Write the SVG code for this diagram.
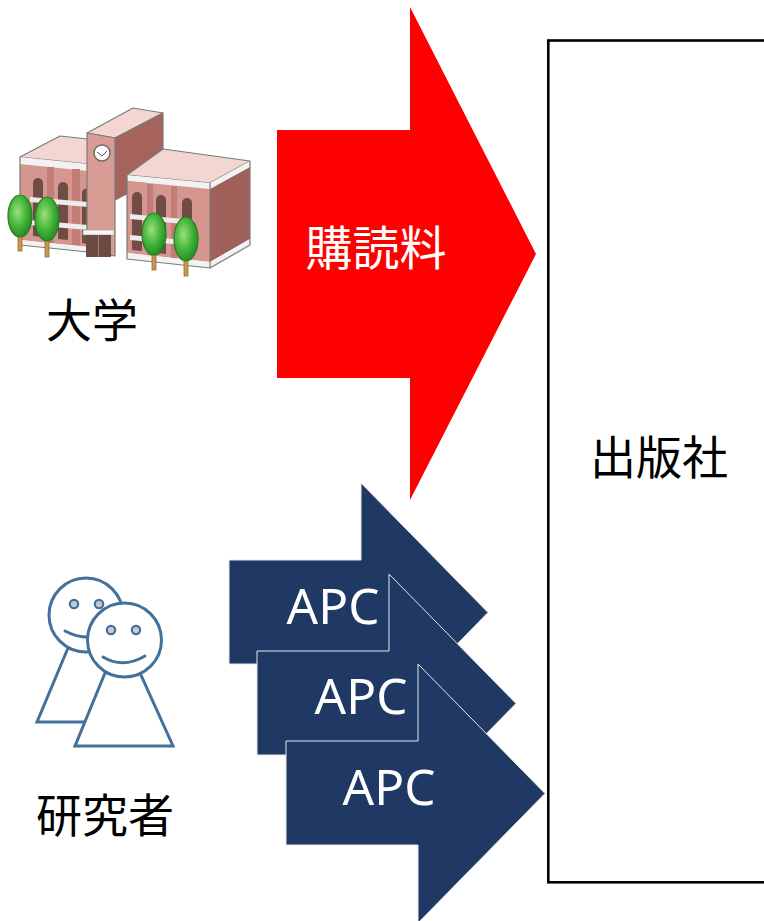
<svg xmlns="http://www.w3.org/2000/svg" width="764" height="921" viewBox="0 0 764 921">
  <style>
    .jp { font-family: "Noto Sans CJK JP", "Noto Sans CJK SC", sans-serif; font-size: 46px; fill: #000; }
    .jp-w { font-family: "Noto Sans CJK JP", "Noto Sans CJK SC", sans-serif; font-size: 47px; fill: #fff; }
    .apc { font-family: "Noto Sans", "Liberation Sans", sans-serif; font-size: 49.5px; fill: #fff; }
    .person { fill: #fff; stroke: #41719c; stroke-width: 3; stroke-linejoin: miter; }
    .eye { fill: #c9c9c9; stroke: #41719c; stroke-width: 2.2; }
    .smile { fill: none; stroke: #41719c; stroke-width: 3; stroke-linecap: round; }
    .edge { stroke: #7a7a7a; stroke-width: 1.2; stroke-linejoin: round; }
    .outline { fill: none; stroke: #7a7a7a; stroke-width: 1.2; stroke-linejoin: round; }
    .rim { fill: #f2f2f2; }
    .win { fill: #6f4c44; }
    .ledge { fill: #ececec; }
    .trunk { fill: #c9964f; stroke: #9a6c34; stroke-width: 0.8; }
    .crown { fill: url(#leaf); stroke: #2c7a25; stroke-width: 1.2; }
  </style>
  <defs>
    <radialGradient id="leaf" cx="0.4" cy="0.4" r="0.65">
      <stop offset="0" stop-color="#9be07f"/>
      <stop offset="0.55" stop-color="#43b53a"/>
      <stop offset="1" stop-color="#1f8a24"/>
    </radialGradient>
    <path id="apc-arrow" d="M0,0 H132 V-77 L259,52.5 L132,182 V104 H0 Z" fill="#203864" stroke="#e8e8e8" stroke-width="1"/>
  </defs>

  <!-- university building icon -->
  <g id="university">
    <!-- left wing -->
    <polygon class="edge" points="20,157 60,136 88,139 88,164" fill="#f3d6d1"/>
    <polygon class="rim" points="20,157 88,164 88,171 20,164"/>
    <polygon points="20,164 88,171 88,247 20,240" fill="#d4968f"/>
    <rect x="47" y="167" width="7" height="76" fill="#c17d76"/>
    <rect x="72" y="169" width="8" height="76" fill="#c17d76"/>
    <path class="win" d="M33,236 V183 A5,5 0 0 1 43,183 V237 Z"/>
    <path class="win" d="M58,239 V187 A5,5 0 0 1 68,187 V240 Z"/>
    <path class="win" d="M82,243 V192 A5,5 0 0 1 88,189 V244 Z"/>
    <polygon class="ledge" points="30,197 88,202 88,207 30,202"/>
    <polygon class="ledge" points="30,220 88,225 88,230 30,225"/>
    <polygon class="rim" points="20,240 88,247 88,252 20,245"/>
    <polyline class="outline" points="20,157 20,245 88,252"/>
    <!-- tower -->
    <polygon class="edge" points="87,133 133,108 163,113 115,138" fill="#f3d6d1"/>
    <polygon class="edge" points="115,138 163,113 163,175 115,200" fill="#a5635c"/>
    <polygon class="edge" points="87,133 115,138 115,256 87,252" fill="#d89c95"/>
    <circle cx="102" cy="153" r="8" fill="#fff" stroke="#6a6a6a" stroke-width="1.5"/>
    <path d="M97,152 L102,156 L107,151" fill="none" stroke="#555" stroke-width="1"/>
    <!-- main door -->
    <rect x="83" y="230" width="31" height="5" fill="#f5f5f5" stroke="#999" stroke-width="0.6"/>
    <rect x="86" y="235" width="25" height="22" fill="#6a4a42"/>
    <line x1="98.5" y1="235" x2="98.5" y2="257" stroke="#a07e76" stroke-width="1"/>
    <!-- right wing -->
    <polygon class="edge" points="127,175 163,149 250,161 210,183" fill="#f3d6d1"/>
    <polygon class="rim" points="127,175 210,183 210,189 127,181"/>
    <polygon class="rim" points="210,183 250,161 250,167 210,189"/>
    <polygon points="210,189 250,167 250,239 210,262" fill="#a0605a"/>
    <polygon points="127,181 210,189 210,262 127,253" fill="#d4968f"/>
    <rect x="147" y="184" width="6" height="72" fill="#c17d76"/>
    <rect x="171" y="186" width="6" height="73" fill="#c17d76"/>
    <path class="win" d="M132,250 V197 A5,5 0 0 1 142,197 V251 Z"/>
    <path class="win" d="M156,253 V200 A5,5 0 0 1 166,200 V254 Z"/>
    <path class="win" d="M182,256 V203 A5,5 0 0 1 192,203 V257 Z"/>
    <polygon class="ledge" points="130,214 194,220 194,225 130,219"/>
    <polygon class="ledge" points="130,235 194,241 194,246 130,240"/>
    <polygon class="rim" points="127,253 210,262 210,268 127,259"/>
    <polygon class="rim" points="210,262 250,239 250,245 210,268"/>
    <polyline class="outline" points="127,175 127,259 210,268 250,245 250,161"/>
    <line class="edge" x1="210" y1="183" x2="210" y2="268"/>
    <!-- trees -->
    <rect class="trunk" x="18" y="232" width="4" height="19"/>
    <ellipse class="crown" cx="20" cy="216" rx="12" ry="21"/>
    <rect class="trunk" x="45" y="236" width="4" height="21"/>
    <ellipse class="crown" cx="47" cy="219" rx="12" ry="22"/>
    <rect class="trunk" x="152" y="250" width="4" height="20"/>
    <ellipse class="crown" cx="154" cy="234" rx="12" ry="21"/>
    <rect class="trunk" x="184" y="255" width="4" height="21"/>
    <ellipse class="crown" cx="186" cy="239" rx="12" ry="22"/>
    <text class="jp" x="92" y="337" text-anchor="middle">大学</text>
  </g>

  <!-- researchers icon -->
  <g id="researchers">
    <polygon class="person" points="68,648 37,722 120,722 103,648"/>
    <circle class="person" cx="86" cy="615" r="37"/>
    <circle class="eye" cx="74" cy="604" r="4.2"/>
    <circle class="eye" cx="99" cy="604" r="4.2"/>
    <path class="smile" d="M65,631 Q78,638 92,637"/>
    <polygon class="person" points="105,673 75,746 173,746 140,673"/>
    <circle class="person" cx="124.5" cy="640" r="37"/>
    <circle class="eye" cx="111" cy="630" r="4.2"/>
    <circle class="eye" cx="136" cy="630" r="4.2"/>
    <path class="smile" d="M103,657 Q123,669 145,656"/>
    <text class="jp" x="105" y="832" text-anchor="middle">研究者</text>
  </g>

  <!-- publisher -->
  <g id="publisher">
    <rect x="548.3" y="40.5" width="240" height="841.8" fill="#fff" stroke="#000" stroke-width="2.6"/>
    <text class="jp" x="659" y="474" text-anchor="middle">出版社</text>
  </g>

  <!-- money flows -->
  <g id="flows">
    <g id="subscription">
      <path d="M277,130 H410 V7 L536,254 L410,500 V378 H277 Z" fill="#ff0000"/>
      <text class="jp-w" x="376" y="265" text-anchor="middle">購読料</text>
    </g>
    <g id="apc-1">
      <use href="#apc-arrow" transform="translate(229,560)"/>
      <text class="apc" x="333" y="624" text-anchor="middle">APC</text>
    </g>
    <g id="apc-2">
      <use href="#apc-arrow" transform="translate(257,651)"/>
      <text class="apc" x="361" y="714" text-anchor="middle">APC</text>
    </g>
    <g id="apc-3">
      <use href="#apc-arrow" transform="translate(286,741)"/>
      <text class="apc" x="389" y="805" text-anchor="middle">APC</text>
    </g>
  </g>
</svg>
